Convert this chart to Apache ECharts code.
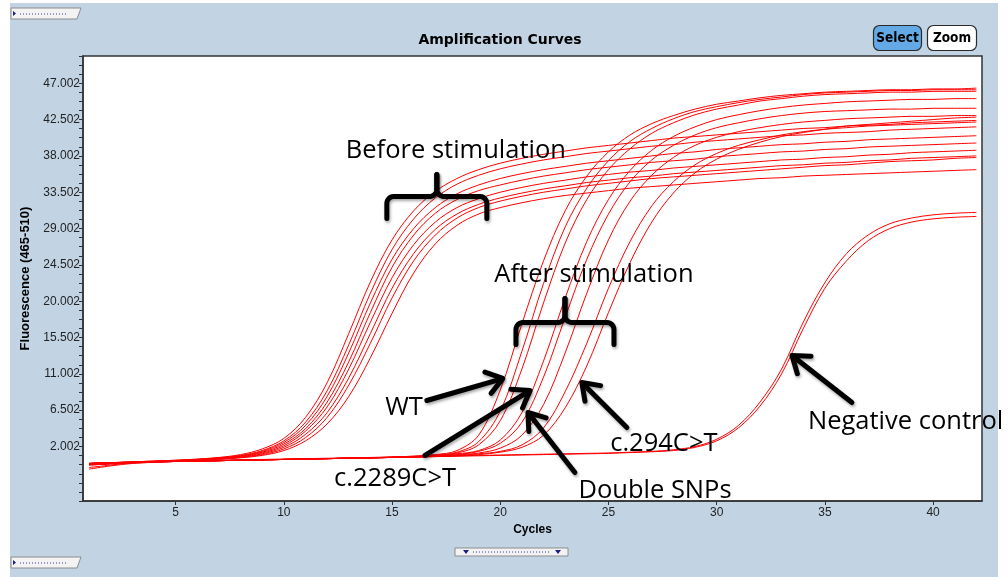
<!DOCTYPE html>
<html>
<head>
<meta charset="utf-8">
<title>Amplification Curves</title>
<script src="https://cdn.jsdelivr.net/npm/echarts@6/dist/echarts.min.js"></script>
<style>
  html, body { margin: 0; padding: 0; background: #ffffff; }
  #chart { width: 1008px; height: 577px; }
</style>
</head>
<body>
<div id="chart"></div>
<script>
// Cycle numbers (x) and fluorescence readings (465-510 channel) per run
const cycles = [1,2,3,4,5,6,7,8,9,10,11,12,13,14,15,16,17,18,19,20,21,22,23,24,25,26,27,28,29,30,31,32,33,34,35,36,37,38,39,40,41,42];

const xTickLabels = ['5','10','15','20','25','30','35','40'];
const yTickLabels = ['2.002','6.502','11.002','15.502','20.002','24.502','29.002','33.502','38.002','42.502','47.002'];

// Before stimulation
const before1 = [-0.1,0.0,0.1,0.2,0.3,0.45,0.65,1.0,1.7,3.0,5.6,9.9,16.0,22.4,27.6,31.2,33.6,35.2,36.3,37.1,37.7,38.2,38.6,39.0,39.3,39.6,39.9,40.2,40.4,40.6,40.8,41.0,41.2,41.4,41.5,41.7,41.8,41.9,42.1,42.2,42.3,42.4];
const before2 = [-0.2,-0.1,0.05,0.15,0.25,0.4,0.6,0.9,1.5,2.7,5.0,8.9,14.6,21.0,26.4,30.2,32.8,34.5,35.6,36.4,37.0,37.5,37.9,38.3,38.6,38.9,39.2,39.4,39.7,39.9,40.1,40.3,40.5,40.6,40.8,40.9,41.0,41.2,41.3,41.4,41.5,41.6];
const before3 = [-0.1,0.0,0.1,0.2,0.3,0.4,0.55,0.85,1.4,2.5,4.6,8.2,13.6,19.8,25.2,29.0,31.6,33.3,34.4,35.2,35.8,36.3,36.7,37.1,37.4,37.7,38.0,38.3,38.5,38.8,39.0,39.2,39.4,39.5,39.7,39.8,40.0,40.1,40.2,40.3,40.4,40.5];
const before4 = [-0.6,-0.3,0.0,0.15,0.25,0.35,0.5,0.8,1.3,2.3,4.2,7.5,12.5,18.6,24.2,28.2,30.9,32.6,33.7,34.4,35.0,35.5,35.9,36.3,36.6,36.9,37.2,37.4,37.6,37.9,38.1,38.3,38.5,38.6,38.8,38.9,39.1,39.2,39.3,39.4,39.5,39.6];
const before5 = [-0.2,-0.1,0.05,0.15,0.25,0.35,0.5,0.75,1.2,2.1,3.9,6.9,11.6,17.4,22.9,27.0,29.8,31.6,32.7,33.5,34.1,34.6,35.0,35.4,35.7,36.0,36.2,36.5,36.7,36.9,37.1,37.3,37.5,37.6,37.8,37.9,38.1,38.2,38.4,38.5,38.6,38.7];
const before6 = [-0.1,0.0,0.05,0.15,0.2,0.3,0.45,0.7,1.1,1.9,3.5,6.2,10.5,16.0,21.6,25.9,28.9,30.8,32.0,32.8,33.4,33.9,34.3,34.7,35.0,35.3,35.5,35.8,36.0,36.2,36.4,36.6,36.8,36.9,37.1,37.2,37.4,37.5,37.7,37.8,37.9,38.0];
const before7 = [-0.3,-0.15,0.0,0.1,0.2,0.3,0.45,0.65,1.0,1.7,3.1,5.6,9.6,14.8,20.4,25.0,28.2,30.3,31.6,32.4,33.0,33.5,33.9,34.3,34.6,34.9,35.2,35.4,35.6,35.8,36.0,36.2,36.4,36.6,36.8,36.9,37.1,37.3,37.4,37.5,37.7,37.8];
const before8 = [-0.1,0.0,0.05,0.1,0.2,0.3,0.4,0.6,0.9,1.5,2.7,4.8,8.2,13.0,18.5,23.5,27.1,29.4,30.8,31.6,32.2,32.7,33.1,33.4,33.7,34.0,34.2,34.4,34.6,34.8,35.0,35.2,35.3,35.5,35.6,35.7,35.8,35.9,36.0,36.1,36.2,36.3];

// After stimulation (WT, c.2289C>T, double SNPs, c.294C>T)
const after1 = [-0.1,0.0,0.05,0.1,0.15,0.2,0.25,0.3,0.35,0.4,0.45,0.5,0.55,0.6,0.7,0.8,1.0,1.5,3.4,9.0,17.2,25.0,31.2,35.5,38.5,40.6,42.0,43.0,43.8,44.4,44.8,45.2,45.5,45.7,45.9,46.0,46.1,46.2,46.2,46.3,46.3,46.4];
const after2 = [-0.2,-0.1,0.0,0.1,0.15,0.2,0.25,0.3,0.35,0.4,0.45,0.5,0.55,0.6,0.7,0.8,0.95,1.3,2.6,6.4,13.8,22.2,29.2,34.0,37.4,39.8,41.4,42.6,43.5,44.1,44.6,45.0,45.3,45.6,45.8,45.9,46.0,46.1,46.1,46.2,46.2,46.2];
const after3 = [-0.1,0.0,0.05,0.1,0.15,0.2,0.25,0.3,0.35,0.4,0.45,0.5,0.55,0.6,0.65,0.75,0.9,1.2,2.2,5.2,11.6,19.8,27.2,32.6,36.3,38.9,40.8,42.1,43.1,43.8,44.3,44.8,45.1,45.4,45.6,45.7,45.8,45.9,45.9,46.0,46.0,46.0];
const after4 = [-0.8,-0.4,-0.1,0.05,0.15,0.2,0.25,0.3,0.35,0.4,0.45,0.5,0.55,0.6,0.65,0.75,0.85,1.1,1.5,2.8,6.2,12.6,20.4,27.4,32.6,36.2,38.7,40.4,41.6,42.5,43.1,43.6,44.0,44.3,44.5,44.7,44.8,44.9,45.0,45.0,45.1,45.1];
const after5 = [-0.2,-0.1,0.0,0.1,0.15,0.2,0.25,0.3,0.35,0.4,0.45,0.5,0.55,0.6,0.65,0.7,0.8,1.0,1.4,2.4,5.0,10.6,18.0,25.2,30.8,34.8,37.5,39.3,40.6,41.5,42.1,42.6,43.0,43.3,43.5,43.6,43.7,43.8,43.8,43.9,43.9,43.9];
const after6 = [-0.1,0.0,0.05,0.1,0.15,0.2,0.25,0.3,0.35,0.4,0.45,0.5,0.55,0.6,0.65,0.7,0.8,0.95,1.2,1.8,3.4,7.2,13.6,21.0,27.6,32.4,35.6,37.8,39.3,40.3,41.0,41.5,41.9,42.2,42.4,42.6,42.7,42.8,42.9,42.9,43.0,43.0];
const after7 = [-0.2,-0.1,0.0,0.1,0.15,0.2,0.25,0.3,0.35,0.4,0.45,0.5,0.55,0.6,0.65,0.7,0.8,0.9,1.1,1.4,2.2,4.3,8.8,14.8,21.6,27.4,31.8,34.8,36.9,38.3,39.3,40.0,40.6,41.0,41.3,41.5,41.7,41.8,41.9,42.0,42.1,42.2];
const after8 = [-0.1,0.0,0.05,0.1,0.15,0.2,0.25,0.3,0.35,0.4,0.45,0.5,0.55,0.6,0.65,0.7,0.75,0.85,1.0,1.3,1.9,3.4,6.8,12.0,18.6,24.8,29.8,33.4,35.9,37.6,38.8,39.7,40.4,40.9,41.3,41.7,41.9,42.1,42.3,42.5,42.7,42.8];

// Negative control
const negative1 = [-0.2,-0.1,0.0,0.1,0.2,0.25,0.3,0.35,0.4,0.45,0.5,0.55,0.6,0.65,0.7,0.75,0.8,0.85,0.9,0.95,1.0,1.05,1.1,1.15,1.2,1.3,1.4,1.6,2.0,2.9,4.6,7.5,11.6,17.4,22.3,25.9,28.2,29.6,30.3,30.7,30.9,31.0];
const negative2 = [-0.3,-0.15,-0.05,0.05,0.15,0.2,0.25,0.3,0.35,0.4,0.45,0.5,0.55,0.6,0.65,0.7,0.75,0.8,0.85,0.9,0.95,1.0,1.05,1.1,1.15,1.25,1.35,1.5,1.9,2.7,4.3,7.0,11.0,16.6,21.6,25.0,27.5,29.0,29.8,30.2,30.4,30.5];

const runs = [
  ['Before 1', before1], ['Before 2', before2], ['Before 3', before3], ['Before 4', before4],
  ['Before 5', before5], ['Before 6', before6], ['Before 7', before7], ['Before 8', before8],
  ['After 1', after1], ['After 2', after2], ['After 3', after3], ['After 4', after4],
  ['After 5', after5], ['After 6', after6], ['After 7', after7], ['After 8', after8],
  ['Negative 1', negative1], ['Negative 2', negative2]
];

const AXIS_FONT = 'Liberation Sans';
const NOTE_FONT = '"Open Sans"';

const chart = echarts.init(document.getElementById('chart'), null, { renderer: 'canvas' });

chart.setOption({
  animation: false,
  backgroundColor: '#ffffff',
  grid: {
    left: 83, top: 56, width: 899, height: 445,
    show: true, backgroundColor: '#ffffff', borderColor: '#333333', borderWidth: 1.5
  },
  xAxis: {
    type: 'value', min: 0.72, max: 42.26, splitNumber: 8,
    name: 'Cycles', nameLocation: 'middle', nameGap: 20,
    nameTextStyle: { fontFamily: AXIS_FONT, fontWeight: 'bold', fontSize: 12, color: '#000' },
    axisLine: { show: true, onZero: false, lineStyle: { color: '#333333', width: 1.5 } },
    axisTick: { show: true, length: 4, lineStyle: { color: '#333333' } },
    splitLine: { show: false },
    axisLabel: {
      margin: 6, fontFamily: AXIS_FONT, fontSize: 12, color: '#222',
      showMinLabel: false, showMaxLabel: false,
      formatter: v => { const s = String(Math.round(v)); return (Math.abs(v - Math.round(v)) < 1e-6 && xTickLabels.includes(s)) ? s : ''; }
    }
  },
  yAxis: {
    type: 'value', min: -4.748, max: 50.377, interval: 2.25,
    name: 'Fluorescence (465-510)', nameLocation: 'middle', nameGap: 45,
    nameTextStyle: { fontFamily: AXIS_FONT, fontWeight: 'bold', fontSize: 13, color: '#000' },
    axisLine: { show: true, lineStyle: { color: '#333333', width: 1.5 } },
    axisTick: { show: true, length: 4, lineStyle: { color: '#333333' } },
    minorTick: { show: true, splitNumber: 2, length: 4, lineStyle: { color: '#333333' } },
    splitLine: { show: false },
    axisLabel: {
      margin: 3, fontFamily: AXIS_FONT, fontSize: 12, color: '#222',
      showMinLabel: false, showMaxLabel: false,
      formatter: v => { const s = v.toFixed(3); return yTickLabels.includes(s) ? s : ''; }
    }
  },
  series: runs.map(([name, values]) => ({
    type: 'line', name: name,
    data: cycles.map((c, i) => [c, values[i]]),
    smooth: 0.35, showSymbol: false, symbol: 'none', silent: true, clip: true,
    lineStyle: { color: '#ff0000', width: 1 }
  }))
});

// ---- window chrome and annotations ----
const px = p => chart.convertToPixel({ gridIndex: 0 }, p);
const ink = () => ({ stroke: '#000', lineWidth: 5, lineCap: 'round', lineJoin: 'round', fill: null,
              shadowBlur: 3, shadowColor: 'rgba(0,0,0,0.35)', shadowOffsetX: 1, shadowOffsetY: 2 });

function note(text, at, align) {
  const p = px(at);
  return { type: 'text', z: 120, x: p[0], y: p[1],
    style: { text: text, font: '25.5px ' + NOTE_FONT, fill: '#000', align: align || 'center', verticalAlign: 'middle' } };
}

function arrow(tail, tip) {
  const a = px(tail), b = px(tip);
  const ang = Math.atan2(b[1] - a[1], b[0] - a[0]);
  const L = 19, w = 0.62;
  const p1 = [b[0] - L * Math.cos(ang - w), b[1] - L * Math.sin(ang - w)];
  const p2 = [b[0] - L * Math.cos(ang + w), b[1] - L * Math.sin(ang + w)];
  return [
    { type: 'line', z: 110, shape: { x1: a[0], y1: a[1], x2: b[0] - 2 * Math.cos(ang), y2: b[1] - 2 * Math.sin(ang) }, style: ink() },
    { type: 'polyline', z: 110, shape: { points: [p1, b, p2] }, style: ink() }
  ];
}

// quarter-circle corner points from angle a0 to a1 around (cx, cy)
function corner(cx, cy, r, a0, a1) {
  const pts = [];
  for (let k = 0; k <= 6; k++) {
    const t = a0 + (a1 - a0) * k / 6;
    pts.push([cx + r * Math.cos(t), cy + r * Math.sin(t)]);
  }
  return pts;
}

function brace(tipAt, halfWidth, drop, rise) {
  const c = px(tipAt);
  const cx = c[0], ty = c[1], by = ty + rise;
  const x0 = cx - halfWidth, x1 = cx + halfWidth, r = 7;
  const P = Math.PI;
  const left = [[x0, by + drop], ...corner(x0 + r, by + r, r, P, 1.5 * P), ...corner(cx - r, by - r, r, 0.5 * P, 0), [cx, ty]];
  const right = [[cx, ty], ...corner(cx + r, by - r, r, P, 0.5 * P), ...corner(x1 - r, by + r, r, 1.5 * P, 2 * P), [x1, by + drop]];
  return [
    { type: 'polyline', z: 110, shape: { points: left }, style: ink() },
    { type: 'polyline', z: 110, shape: { points: right }, style: ink() }
  ];
}

function sideTab(y) {
  return [
    { type: 'polygon', z: 5, shape: { points: [[11, y], [81, y], [77, y + 11], [11, y + 11]] },
      style: { fill: '#f3f3f3', stroke: '#8c8c8c', lineWidth: 1 } },
    { type: 'polygon', z: 6, shape: { points: [[13, y + 3], [16, y + 5.5], [13, y + 8]] }, style: { fill: '#1c1c8a' } },
    { type: 'line', z: 6, shape: { x1: 20, y1: y + 6, x2: 68, y2: y + 6 },
      style: { stroke: '#3b3ba0', lineWidth: 1, lineDash: [1, 2] } }
  ];
}

const chrome = [
  { type: 'rect', z: -100, shape: { x: 10, y: 3, width: 988, height: 574 }, style: { fill: '#c2d4e4' } },
  ...sideTab(8),
  ...sideTab(557),
  { type: 'rect', z: 5, shape: { x: 455, y: 548, width: 113, height: 8 }, style: { fill: '#f3f3f3', stroke: '#8c8c8c', lineWidth: 1 } },
  { type: 'polygon', z: 6, shape: { points: [[463, 550], [469, 550], [466, 554]] }, style: { fill: '#1c1c8a' } },
  { type: 'polygon', z: 6, shape: { points: [[555, 550], [561, 550], [558, 554]] }, style: { fill: '#1c1c8a' } },
  { type: 'line', z: 6, shape: { x1: 473, y1: 552, x2: 551, y2: 552 }, style: { stroke: '#3b3ba0', lineWidth: 1, lineDash: [1, 2] } },
  { type: 'text', z: 5, x: 500, y: 40,
    style: { text: 'Amplification Curves', font: 'bold 14px "DejaVu Sans"', fill: '#000', align: 'center', verticalAlign: 'middle' } },
  { type: 'rect', z: 5, shape: { x: 873.5, y: 25.5, width: 48, height: 25, r: 6 }, style: { fill: '#63a9e6', stroke: '#2a2a2a', lineWidth: 1.2 } },
  { type: 'text', z: 6, x: 897.5, y: 38, style: { text: 'Select', font: 'bold 13.5px "DejaVu Sans Condensed", "Liberation Sans"', fill: '#000', align: 'center', verticalAlign: 'middle' } },
  { type: 'rect', z: 5, shape: { x: 927.5, y: 25.5, width: 49, height: 25, r: 6 }, style: { fill: '#ffffff', stroke: '#2a2a2a', lineWidth: 1.2 } },
  { type: 'text', z: 6, x: 952, y: 38, style: { text: 'Zoom', font: 'bold 13.5px "DejaVu Sans Condensed", "Liberation Sans"', fill: '#000', align: 'center', verticalAlign: 'middle' } }
];

const notes = [
  note('Before stimulation', [17.95, 38.68]),
  ...brace([17.07, 35.71], 50, 22, 22),
  note('After stimulation', [24.33, 23.32]),
  ...brace([22.99, 20.34], 49, 22, 24),
  note('WT', [15.55, 6.84]),
  ...arrow([16.61, 7.70], [20.12, 10.43]),
  note('c.2289C>T', [15.14, -1.96]),
  ...arrow([16.52, 0.89], [21.37, 8.94]),
  note('Double SNPs', [27.15, -3.45]),
  ...arrow([23.45, -1.22], [21.28, 6.22]),
  note('c.294C>T', [27.56, 2.37]),
  ...arrow([25.85, 4.36], [23.77, 9.93]),
  note('Negative control', [34.22, 5.10], 'left'),
  ...arrow([36.25, 7.45], [33.48, 13.28])
];

chart.setOption({ graphic: { elements: [...chrome, ...notes] } });
</script>
</body>
</html>
